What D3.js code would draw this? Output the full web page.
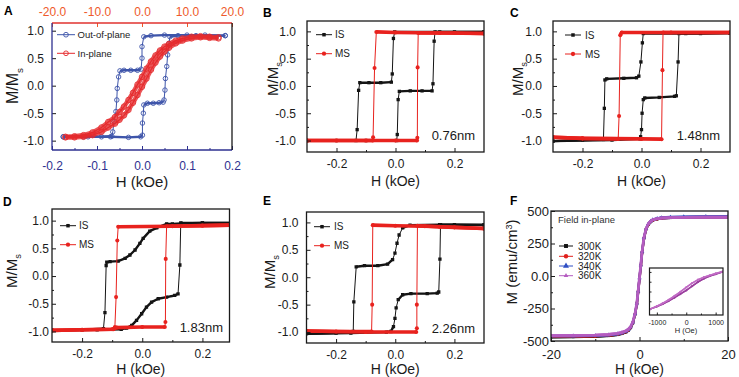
<!DOCTYPE html>
<html>
<head>
<meta charset="utf-8">
<script src="https://cdn.jsdelivr.net/npm/d3@7"></script>
<style>
  body { margin: 0; background: #fff; }
  svg { display: block; }
</style>
</head>
<body>
<svg id="fig" width="739" height="377"></svg>
<script>
const FONT = '"Liberation Sans", Arial, Helvetica, sans-serif';
const BLACK = "#141414", RED = "#e8221e";

// ---------- A: out-of-plane (bottom axis, kOe) and in-plane (top axis) ----------
const aOutDown = [[0.185,0.91],[0.14,0.92],[0.1,0.92],[0.05,0.92],[0.02,0.91],[0.004,0.89],[0.0,0.71],[0.0,0.5],[-0.002,0.3],[-0.01,0.28],[-0.025,0.28],[-0.04,0.28],[-0.049,0.27],[-0.052,0.16],[-0.055,-0.05],[-0.056,-0.26],[-0.058,-0.47],[-0.062,-0.65],[-0.065,-0.84],[-0.067,-0.92],[-0.09,-0.93],[-0.13,-0.93],[-0.175,-0.93]];
const aOutUp = [[-0.175,-0.93],[-0.12,-0.93],[-0.07,-0.93],[-0.03,-0.94],[-0.003,-0.93],[0.001,-0.9],[0.001,-0.68],[0.003,-0.5],[0.004,-0.35],[0.012,-0.32],[0.025,-0.32],[0.038,-0.31],[0.047,-0.3],[0.049,-0.26],[0.051,-0.08],[0.052,0.13],[0.055,0.35],[0.057,0.56],[0.06,0.77],[0.062,0.89],[0.08,0.91],[0.12,0.91],[0.185,0.91]];
const aInH = [-17,-15,-13,-11,-9,-7.5,-6,-5,-4,-3,-2,-1,0,1,2,3,4,5,6,7.5,9,11,13,15,17];
const aInDown = [-0.93,-0.92,-0.9,-0.85,-0.76,-0.66,-0.57,-0.48,-0.38,-0.26,-0.13,0.02,0.16,0.31,0.44,0.55,0.64,0.71,0.76,0.82,0.86,0.89,0.9,0.89,0.88];
const aInUp = [-0.94,-0.94,-0.93,-0.9,-0.84,-0.76,-0.69,-0.62,-0.54,-0.44,-0.31,-0.17,-0.02,0.13,0.29,0.42,0.53,0.62,0.69,0.77,0.82,0.86,0.88,0.87,0.86];

// ---------- B: 0.76 nm ----------
const bIsDown = [[0.3,0.99],[0.15,0.99],[-0.003,0.99],[-0.007,0.87],[-0.011,0.22],[-0.014,0.07],[-0.05,0.06],[-0.09,0.06],[-0.121,0.06],[-0.125,-0.08],[-0.13,-0.8],[-0.134,-1.0],[-0.2,-1.0],[-0.3,-1.0]];
const bIsUp = [[-0.3,-1.0],[-0.1,-1.0],[0.004,-1.0],[0.006,-0.89],[0.009,-0.25],[0.013,-0.1],[0.05,-0.09],[0.09,-0.09],[0.124,-0.09],[0.127,0.04],[0.131,0.82],[0.134,0.99],[0.2,0.99],[0.3,0.99]];
const bMsDown = [[0.3,0.96],[0.15,0.97],[0.0,0.98],[-0.065,0.99],[-0.071,0.33],[-0.076,-0.94],[-0.077,-1.0],[-0.2,-1.0],[-0.3,-1.0]];
const bMsUp = [[-0.3,-1.0],[-0.1,-1.0],[0.0,-1.0],[0.073,-1.0],[0.074,-0.95],[0.075,0.34],[0.077,0.97],[0.2,0.97],[0.3,0.96]];

// ---------- C: 1.48 nm ----------
const cIsDown = [[0.3,0.97],[0.15,0.96],[0.006,0.96],[0.003,0.79],[-0.002,0.44],[-0.009,0.18],[-0.017,0.15],[-0.06,0.14],[-0.118,0.13],[-0.124,0.11],[-0.126,-0.41],[-0.129,-0.98],[-0.2,-0.99],[-0.3,-1.01]];
const cIsUp = [[-0.3,-1.01],[-0.1,-0.99],[-0.005,-0.97],[-0.003,-0.93],[0.0,-0.8],[0.002,-0.5],[0.006,-0.25],[0.011,-0.22],[0.06,-0.21],[0.112,-0.19],[0.118,-0.18],[0.124,0.44],[0.127,0.96],[0.2,0.96],[0.3,0.97]];
const cMsDown = [[0.3,0.98],[0.1,0.98],[-0.067,0.98],[-0.072,0.93],[-0.076,-0.55],[-0.079,-0.97],[-0.2,-0.96],[-0.3,-0.94]];
const cMsUp = [[-0.3,-0.94],[-0.2,-0.96],[0.0,-0.97],[0.068,-0.975],[0.071,0.29],[0.073,0.98],[0.3,0.98]];

// ---------- D: 1.83 nm ----------
const dIsDown = [[0.3,0.96],[0.2,0.96],[0.13,0.95],[0.1,0.94],[0.081,0.94],[0.048,0.87],[0.025,0.81],[0.003,0.68],[-0.008,0.59],[-0.024,0.47],[-0.041,0.38],[-0.057,0.32],[-0.08,0.27],[-0.107,0.26],[-0.118,0.25],[-0.12,0.19],[-0.124,-0.66],[-0.129,-0.95],[-0.2,-0.97],[-0.3,-0.98]];
const dIsUp = [[-0.3,-0.98],[-0.15,-0.97],[-0.07,-0.96],[-0.052,-0.94],[-0.035,-0.89],[-0.019,-0.8],[-0.002,-0.68],[0.014,-0.56],[0.031,-0.47],[0.053,-0.41],[0.081,-0.38],[0.108,-0.35],[0.119,-0.32],[0.125,0.2],[0.128,0.96],[0.2,0.96],[0.3,0.96]];
const dMsDown = [[0.3,0.92],[0.1,0.9],[-0.08,0.89],[-0.083,0.64],[-0.087,-0.38],[-0.091,-0.92],[-0.095,-0.96],[-0.2,-0.97],[-0.3,-0.98]];
const dMsUp = [[-0.3,-0.98],[-0.2,-0.97],[-0.1,-0.96],[-0.085,-0.93],[0.0,-0.92],[0.075,-0.92],[0.077,-0.83],[0.078,0.31],[0.081,0.9],[0.2,0.91],[0.3,0.92]];

// ---------- E: 2.26 nm ----------
const eIsDown = [[0.3,0.96],[0.15,0.96],[0.05,0.95],[0.025,0.9],[0.013,0.77],[0.006,0.62],[-0.001,0.44],[-0.009,0.32],[-0.026,0.24],[-0.059,0.21],[-0.104,0.21],[-0.132,0.19],[-0.14,-0.45],[-0.142,-0.99],[-0.2,-1.02],[-0.3,-1.03]];
const eIsUp = [[-0.3,-1.03],[-0.15,-1.02],[-0.03,-1.0],[-0.015,-0.99],[-0.006,-0.9],[-0.001,-0.75],[0.003,-0.56],[0.01,-0.41],[0.025,-0.32],[0.053,-0.3],[0.108,-0.3],[0.142,-0.29],[0.147,-0.27],[0.151,0.33],[0.153,0.96],[0.2,0.96],[0.3,0.95]];
const eMsDown = [[0.3,0.89],[0.2,0.91],[0.1,0.93],[0.0,0.94],[-0.076,0.95],[-0.078,-0.5],[-0.08,-0.99],[-0.2,-0.99],[-0.3,-0.98]];
const eMsUp = [[-0.3,-0.98],[-0.1,-1.0],[0.071,-1.0],[0.073,-0.93],[0.073,-0.5],[0.075,0.94],[0.15,0.92],[0.3,0.89]];

// ---------- F: M(H) at four temperatures ----------
const fH = [-20,-15,-10,-7,-5,-4,-3,-2.5,-2,-1.5,-1,-0.6,-0.3,0,0.3,0.6,1,1.5,2,2.5,3,4,5,7,10,15,20];
const m300 = [-470,-468,-465,-460,-452,-444,-431,-419,-399,-362,-297,-217,-122,-22,78,183,288,360,396,416,428,438,444,448,450,452,453];
const m320 = [-466,-465,-462,-457,-449,-441,-428,-416,-396,-359,-293,-213,-118,-18,82,186,291,362,398,418,430,440,446,450,452,454,455];
const m340 = [-462,-461,-459,-454,-446,-438,-425,-413,-393,-356,-290,-210,-115,-15,85,189,294,365,401,421,433,443,449,453,455,457,458];
const m360 = [-458,-457,-455,-450,-442,-434,-421,-409,-389,-352,-287,-207,-112,-12,88,192,296,366,402,421,432,441,446,449,451,452,452];
const tempLabels = ["300K","320K","340K","360K"];
// inset (Oe)
const insH = [-1230,-1000,-800,-600,-400,-200,0,200,400,600,800,1000,1230];
const insUp = [-315,-270,-225,-170,-110,-45,20,95,170,230,275,310,350];
const insDown = [-315,-262,-210,-150,-80,-5,75,150,210,255,290,322,355];

const svg = d3.select("#fig").attr("font-family", FONT);
const defs = svg.append("defs");
let clipN = 0;

const fmt1 = d => (Math.abs(d) < 1e-9 ? 0 : d).toFixed(1);

function frame(box, xDom, yDom) {
  const [x0, x1, y0, y1] = box;
  const x = d3.scaleLinear().domain(xDom).range([x0, x1]);
  const y = d3.scaleLinear().domain(yDom).range([y1, y0]);
  const id = "clip" + (clipN++);
  defs.append("clipPath").attr("id", id).append("rect")
    .attr("x", x0).attr("y", y0).attr("width", x1 - x0).attr("height", y1 - y0);
  const g = svg.append("g");
  const plot = g.append("g").attr("clip-path", `url(#${id})`);
  return { x, y, g, plot, box };
}

function axis(g, ax, tx, ty, size, color) {
  const a = g.append("g").attr("transform", `translate(${tx},${ty})`).call(ax);
  a.attr("font-family", FONT).attr("font-size", size).attr("color", color);
  a.select(".domain").remove();
  return a;
}

// standard inward axes (bottom + left) with minor ticks
function stdAxes(f, o) {
  const [x0, x1, y0, y1] = f.box;
  axis(f.g, d3.axisBottom(f.x).tickValues(o.xTicks).tickFormat(o.xFmt).tickSizeInner(-4).tickSizeOuter(0).tickPadding(o.xPad), 0, y1, o.font, o.xColor || "#1a1a1a");
  axis(f.g, d3.axisBottom(f.x).tickValues(o.xMinor).tickFormat("").tickSizeInner(-2).tickSizeOuter(0), 0, y1, o.font, o.xColor || "#1a1a1a");
  axis(f.g, d3.axisLeft(f.y).tickValues(o.yTicks).tickFormat(o.yFmt).tickSizeInner(-4).tickSizeOuter(0).tickPadding(o.yPad), x0, 0, o.font, "#1a1a1a");
  axis(f.g, d3.axisLeft(f.y).tickValues(o.yMinor).tickFormat("").tickSizeInner(-2).tickSizeOuter(0), x0, 0, o.font, "#1a1a1a");
}

function box(f, w) {
  const [x0, x1, y0, y1] = f.box;
  f.g.append("rect").attr("x", x0).attr("y", y0).attr("width", x1 - x0).attr("height", y1 - y0)
    .attr("fill", "none").attr("stroke", "#1a1a1a").attr("stroke-width", w || 1.3);
}

function letter(t, x, y) {
  svg.append("text").attr("x", x).attr("y", y).attr("font-size", 12).attr("font-weight", "bold").text(t);
}

function xTitle(cx, y, size) {
  svg.append("text").attr("x", cx).attr("y", y).attr("text-anchor", "middle").attr("font-size", size).attr("fill", "#1a1a1a").text("H (kOe)");
}

function mmsLabel(cx, cy, size) {
  const t = svg.append("text").attr("transform", `translate(${cx},${cy}) rotate(-90)`)
    .attr("text-anchor", "middle").attr("dy", "0.35em").attr("font-size", size).attr("fill", "#1a1a1a");
  t.append("tspan").text("M/M");
  t.append("tspan").attr("font-size", size * 0.62).attr("dy", "0.45em").text("s");
}

// a hysteresis branch: thin connecting line, dense (flat) stretches drawn thick, markers at points
function branch(f, pts, st) {
  const { x, y, plot } = f;
  const line = d3.line().x(d => x(d[0])).y(d => y(d[1]));
  plot.append("path").attr("d", line(pts)).attr("fill", "none")
    .attr("stroke", st.color).attr("stroke-width", st.thin || 1);
  let run = [];
  const runs = [];
  for (let i = 0; i < pts.length - 1; i++) {
    const a = pts[i], b = pts[i + 1];
    const dx = Math.abs(x(b[0]) - x(a[0])), dy = Math.abs(y(b[1]) - y(a[1]));
    if (dy < (st.ratio || 2) * dx) {
      if (!run.length) run.push(a);
      run.push(b);
    } else if (run.length) { runs.push(run); run = []; }
  }
  if (run.length) runs.push(run);
  runs.forEach(r => plot.append("path").attr("d", line(r)).attr("fill", "none")
    .attr("stroke", st.color).attr("stroke-width", st.thick).attr("stroke-linejoin", "round")
    .attr("stroke-opacity", st.bandOpacity || 1));
  const sym = d3.symbol().type(st.shape).size(st.size);
  plot.append("g").selectAll("path").data(pts).join("path")
    .attr("d", sym)
    .attr("transform", d => `translate(${x(d[0])},${y(d[1])})`)
    .attr("fill", st.open ? "#fff" : st.color)
    .attr("fill-opacity", st.open ? 0 : 1)
    .attr("stroke", st.color).attr("stroke-width", st.open ? 0.9 : 0);
}

function legendRow(x, y, len, label, st, size, tx) {
  svg.append("line").attr("x1", x).attr("x2", x + len).attr("y1", y).attr("y2", y)
    .attr("stroke", st.color).attr("stroke-width", 1);
  svg.append("path").attr("d", d3.symbol().type(st.shape).size(st.size * 1.1)())
    .attr("transform", `translate(${x + len / 2},${y})`)
    .attr("fill", st.open ? "none" : st.color).attr("stroke", st.color).attr("stroke-width", st.open ? 0.9 : 0);
  svg.append("text").attr("x", tx).attr("y", y + size * 0.36).attr("font-size", size).attr("fill", "#222").text(label);
}

const IS = { color: BLACK, shape: d3.symbolSquare, size: 11, thick: 2.4, thin: 1 };
const MS = { color: RED, shape: d3.symbolCircle, size: 13, thick: 3.6, thin: 1 };

// ================= Panel A =================
(function () {
  const f = frame([52, 232, 23, 150], [-0.2, 0.2], [-1.17, 1.14]);
  const xTop = d3.scaleLinear().domain([-20, 20]).range([52, 232]);
  const NAVY = "#2e3190", ORANGE = "#ee5a2a", BLUE = "#3e55aa", ARED = "#e52a2d";
  axis(f.g, d3.axisBottom(f.x).tickValues([-0.2, -0.1, 0, 0.1, 0.2]).tickFormat(fmt1).tickSizeInner(-4).tickSizeOuter(0).tickPadding(11), 0, 150, 12, NAVY);
  axis(f.g, d3.axisBottom(f.x).tickValues([-0.15, -0.05, 0.05, 0.15]).tickFormat("").tickSizeInner(-2).tickSizeOuter(0), 0, 150, 12, NAVY);
  axis(f.g, d3.axisTop(xTop).tickValues([-20, -10, 0, 10, 20]).tickFormat(fmt1).tickSizeInner(-4).tickSizeOuter(0).tickPadding(7), 0, 23, 12, ORANGE);
  axis(f.g, d3.axisLeft(f.y).tickValues([-1, -0.5, 0, 0.5, 1]).tickFormat(fmt1).tickSizeInner(-4).tickSizeOuter(0).tickPadding(8), 52, 0, 12, "#1a1a1a");

  const inPts1 = aInH.map((h, i) => [f.x.invert(xTop(h)), aInDown[i]]);
  const inPts2 = aInH.map((h, i) => [f.x.invert(xTop(h)), aInUp[i]]);
  const inSt = { color: ARED, shape: d3.symbolCircle, size: 24, thick: 4.6, thin: 1.2, open: true, bandOpacity: 0.8, ratio: 100 };
  const outSt = { color: BLUE, shape: d3.symbolCircle, size: 16, thick: 2.4, thin: 1, open: true };
  branch(f, aOutDown, outSt);
  branch(f, aOutUp, outSt);
  branch(f, inPts1, inSt);
  branch(f, inPts2, inSt);

  f.g.append("line").attr("x1", 52).attr("x2", 232).attr("y1", 23).attr("y2", 23).attr("stroke", "#e0322f").attr("stroke-width", 1.3);
  f.g.append("line").attr("x1", 52).attr("x2", 232).attr("y1", 150).attr("y2", 150).attr("stroke", NAVY).attr("stroke-width", 1.3);
  f.g.append("line").attr("x1", 52).attr("x2", 52).attr("y1", 23).attr("y2", 150).attr("stroke", NAVY).attr("stroke-width", 1.3);
  f.g.append("line").attr("x1", 232).attr("x2", 232).attr("y1", 23).attr("y2", 150).attr("stroke", "#1a1a1a").attr("stroke-width", 1.3);

  legendRow(57, 34.7, 18, "Out-of-plane", outSt, 9.5, 77.5);
  legendRow(57, 53.3, 18, "In-plane", Object.assign({}, inSt, { size: 16 }), 9.5, 77.5);
  letter("A", 4, 15);
  xTitle(142, 186.5, 15);
  mmsLabel(12.5, 86, 16);
})();

// ================= Panels B–E =================
function loopPanel(o) {
  const f = frame(o.box, o.xDom, o.yDom);
  stdAxes(f, {
    xTicks: [-0.2, 0, 0.2], xMinor: [-0.1, 0.1], xFmt: fmt1, xPad: 7,
    yTicks: [-1, -0.5, 0, 0.5, 1], yMinor: [-0.75, -0.25, 0.25, 0.75], yFmt: fmt1, yPad: o.yPad, font: 12
  });
  branch(f, o.isDown, IS);
  branch(f, o.isUp, IS);
  branch(f, o.msDown, MS);
  branch(f, o.msUp, MS);
  box(f);
  legendRow(o.leg[0], o.leg[1], 16, "IS", IS, 10, o.leg[2]);
  legendRow(o.leg[0], o.leg[1] + 19, 16, "MS", MS, 10, o.leg[2]);
  svg.append("text").attr("x", o.note[0]).attr("y", o.note[1]).attr("text-anchor", "end")
    .attr("font-size", 13).attr("fill", "#1a1a1a").text(o.noteText);
  letter(o.letter, o.lp[0], o.lp[1]);
  xTitle((o.box[0] + o.box[1]) / 2, o.titleY, 14);
  mmsLabel(o.yl[0], o.yl[1], 15);
}

loopPanel({ box: [307, 484, 21, 152], xDom: [-0.3, 0.3], yDom: [-1.21, 1.19], yPad: 11,
  isDown: bIsDown, isUp: bIsUp, msDown: bMsDown, msUp: bMsUp,
  leg: [316, 34.7, 335], note: [475, 140], noteText: "0.76nm", letter: "B", lp: [263, 16.5], titleY: 186, yl: [273, 79] });
loopPanel({ box: [553, 730, 21, 152], xDom: [-0.3, 0.3], yDom: [-1.21, 1.19], yPad: 11,
  isDown: cIsDown, isUp: cIsUp, msDown: cMsDown, msUp: cMsUp,
  leg: [565, 35, 585], note: [720, 140], noteText: "1.48nm", letter: "C", lp: [510, 16.5], titleY: 186, yl: [518, 79] });
loopPanel({ box: [52, 229.5, 209, 342], xDom: [-0.3, 0.29], yDom: [-1.19, 1.21], yPad: 3,
  isDown: dIsDown, isUp: dIsUp, msDown: dMsDown, msUp: dMsUp,
  leg: [60, 225.7, 79], note: [223, 331.5], noteText: "1.83nm", letter: "D", lp: [3, 205.5], titleY: 374, yl: [12, 271] });
loopPanel({ box: [306.5, 484, 212, 343], xDom: [-0.3, 0.3], yDom: [-1.2, 1.19], yPad: 8,
  isDown: eIsDown, isUp: eIsUp, msDown: eMsDown, msUp: eMsUp,
  leg: [314, 226.7, 334], note: [475, 332.5], noteText: "2.26nm", letter: "E", lp: [263, 205], titleY: 374, yl: [270, 272] });

// ================= Panel F =================
(function () {
  const f = frame([551, 728, 211, 341], [-20, 20], [-500, 500]);
  stdAxes(f, {
    xTicks: [-20, 0, 20], xMinor: [-10, 10], xFmt: d => String(d), xPad: 9,
    yTicks: [-500, -250, 0, 250, 500], yMinor: [-375, -125, 125, 375], yFmt: d => d === 0 ? "0.0" : String(d), yPad: 2, font: 13
  });
  const series = [m300, m320, m340, m360];
  const styles = [
    { color: "#111111", shape: d3.symbolSquare, size: 7, thick: 2.6, thin: 2.4 },
    { color: "#e0201c", shape: d3.symbolCircle, size: 8, thick: 2.6, thin: 2.4 },
    { color: "#2f4fc4", shape: d3.symbolTriangle, size: 8, thick: 2.6, thin: 2.4 },
    { color: "#b45cc0", shape: d3.symbolTriangle2, size: 8, thick: 2.8, thin: 2.8, bandOpacity: 0.9 }
  ];
  series.forEach((m, k) => branch(f, fH.map((h, i) => [h, m[i]]), styles[k]));
  box(f);

  svg.append("text").attr("x", 558).attr("y", 223).attr("font-size", 9.5).attr("fill", "#333").text("Field in-plane");
  [246, 256.3, 266, 275.7].forEach((yy, k) => {
    const st = Object.assign({}, styles[k], { size: 14, shape: styles[k].shape });
    legendRow(559, yy, 14, tempLabels[k], st, 10, 578);
  });

  // inset
  const ib = [649.5, 723, 268, 315];
  const fi = frame(ib, [-1250, 1250], [-420, 420]);
  fi.g.insert("rect", ":first-child").attr("x", ib[0]).attr("y", ib[2]).attr("width", ib[1] - ib[0]).attr("height", ib[3] - ib[2]).attr("fill", "#fff");
  axis(fi.g, d3.axisBottom(fi.x).tickValues([-1000, 0, 1000]).tickFormat(d => String(d)).tickSizeInner(-2.5).tickSizeOuter(0).tickPadding(5), 0, ib[3], 7, "#222");
  axis(fi.g, d3.axisBottom(fi.x).tickValues([-500, 500]).tickFormat("").tickSizeInner(-1.5).tickSizeOuter(0), 0, ib[3], 7, "#222");
  axis(fi.g, d3.axisLeft(fi.y).tickValues([-175, 0, 175, 350]).tickFormat("").tickSizeInner(-2).tickSizeOuter(0), ib[0], 0, 7, "#222");
  const insSt = { color: "#9a3f9e", shape: d3.symbolCircle, size: 4, thick: 1.6, thin: 1.3 };
  branch(fi, insH.map((h, i) => [h, insUp[i]]), insSt);
  branch(fi, insH.map((h, i) => [h, insDown[i]]), Object.assign({}, insSt, { color: "#c06ac4" }));
  box(fi, 1.2);
  svg.append("text").attr("x", 686).attr("y", 333).attr("text-anchor", "middle").attr("font-size", 7.5).attr("fill", "#222").text("H (Oe)");

  letter("F", 510, 205);
  xTitle(639.5, 374, 14);
  const t = svg.append("text").attr("transform", "translate(511.5,262) rotate(-90)")
    .attr("text-anchor", "middle").attr("dy", "0.35em").attr("font-size", 15).attr("fill", "#1a1a1a");
  t.append("tspan").text("M (emu/cm");
  t.append("tspan").attr("font-size", 9).attr("dy", "-0.5em").text("3");
  t.append("tspan").attr("dy", "0.3em").text(")");
})();
</script>
</body>
</html>
